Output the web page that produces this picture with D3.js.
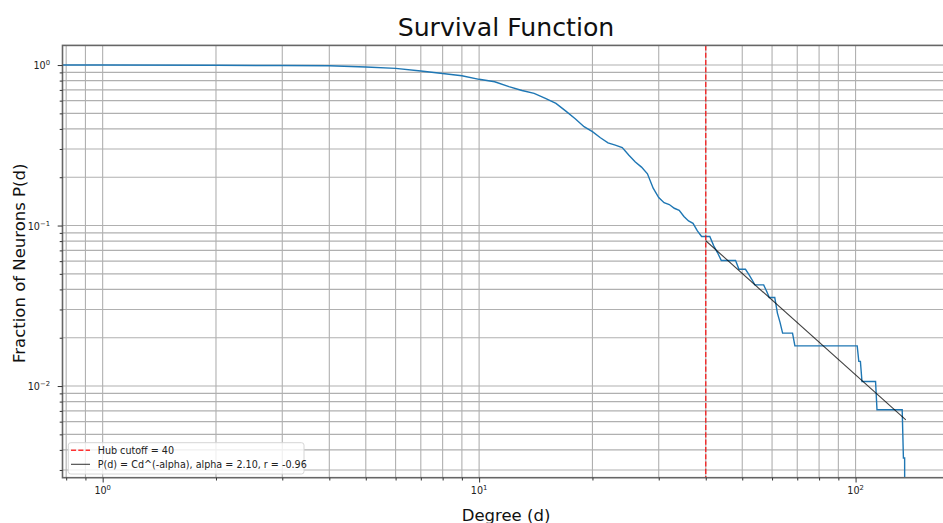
<!DOCTYPE html>
<html>
<head>
<meta charset="utf-8">
<script src="https://cdn.jsdelivr.net/npm/d3@7/dist/d3.min.js"></script>
<style>
  body { margin: 0; background: #fff; }
  svg { display: block; font-family: "DejaVu Sans", sans-serif; }
</style>
</head>
<body>
<svg id="chart"></svg>
<script>
// degree values where the survival curve has a reading (integer degrees)
const degrees = [
  0, 1, 2, 3, 4, 5, 6, 7, 8, 9, 10,
  11, 12, 13, 14, 15, 16, 17, 18, 19, 20,
  21, 22, 23, 24, 25, 26, 27, 28, 29, 30,
  31, 32, 33, 34, 35, 36, 37, 38, 39, 40,
  41, 42, 43, 44, 48, 49, 51, 52, 53, 54,
  57, 58, 59, 61, 62, 63, 64, 68, 69, 101,
  102, 103, 104, 113, 114, 133, 134, 135, 136
];
// number of neurons still counted at each degree above
const neuronCounts = [
  281, 281, 280, 279, 278, 273, 268, 258, 249, 241, 229,
  221, 206, 195, 187, 174, 162, 145, 130, 116, 108,
  99, 92, 89, 86, 77, 70, 65, 59, 48, 42,
  39, 38, 36, 35, 32, 30, 29, 26, 24, 24,
  24, 21, 19, 17, 17, 15, 15, 14, 13, 12,
  12, 11, 10, 10, 8, 7, 6, 6, 5, 5,
  4, 4, 3, 3, 2, 2, 1, 1, 0
];
const totalNeurons = 281;

const hubCutoff = 40;
const fitAlpha = 2.10;
const fitC = 186;
const fitR = -0.96;

const legendLabels = [
  `Hub cutoff = ${hubCutoff}`,
  `P(d) = Cd^(-alpha), alpha = ${fitAlpha.toFixed(2)}, r = ${fitR.toFixed(2)}`
];

class SurvivalPlot {

  constructor(_config) {
    this.config = {
      parentElement: _config.parentElement,
      containerWidth: 943,
      containerHeight: 523,
      plot: {left: 62.5, right: 946, top: 45.4, bottom: 477.7}
    };
    this.initVis();
  }

  initVis() {
    let vis = this;
    const p = vis.config.plot;

    vis.svg = d3.select(vis.config.parentElement)
        .attr('width', vis.config.containerWidth)
        .attr('height', vis.config.containerHeight);

    vis.points = degrees.map((d, i) => ({d: d, p: neuronCounts[i] / totalNeurons}));

    // log axes padded by 5% of the positive data span, like matplotlib autoscale
    const lx = d3.extent(vis.points.filter(d => d.d > 0), d => Math.log10(d.d));
    const ly = d3.extent(vis.points.filter(d => d.p > 0), d => Math.log10(d.p));
    const px = (lx[1] - lx[0]) * 0.05, py = (ly[1] - ly[0]) * 0.05;

    vis.x = d3.scaleLog()
        .domain([Math.pow(10, lx[0] - px), Math.pow(10, lx[1] + px)])
        .range([p.left, p.right]);
    vis.y = d3.scaleLog()
        .domain([Math.pow(10, ly[0] - py), Math.pow(10, ly[1] + py)])
        .range([p.bottom, p.top]);

    vis.svg.append('defs').append('clipPath').attr('id', 'plot-clip')
      .append('rect')
        .attr('x', p.left).attr('y', p.top)
        .attr('width', p.right - p.left).attr('height', p.bottom - p.top);

    this.renderVis();
  }

  renderVis() {
    let vis = this;
    const p = vis.config.plot;
    const isMajor = v => Math.abs(Math.log10(v) - Math.round(Math.log10(v))) < 1e-9;

    const xd = vis.x.domain(), yd = vis.y.domain();
    const xTicks = vis.x.ticks().filter(v => v >= xd[0] && v <= xd[1]);
    const yTicks = vis.y.ticks().filter(v => v >= yd[0] && v <= yd[1]);

    // grid, major and minor
    const grid = vis.svg.append('g')
        .attr('stroke', '#b0b0b0')
        .attr('stroke-width', 1.1);
    grid.selectAll('.vgrid')
      .data(xTicks)
      .join('line')
        .attr('class', 'vgrid')
        .attr('x1', d => vis.x(d)).attr('x2', d => vis.x(d))
        .attr('y1', p.top).attr('y2', p.bottom);
    grid.selectAll('.hgrid')
      .data(yTicks)
      .join('line')
        .attr('class', 'hgrid')
        .attr('x1', p.left).attr('x2', p.right)
        .attr('y1', d => vis.y(d)).attr('y2', d => vis.y(d));

    const plotArea = vis.svg.append('g').attr('clip-path', 'url(#plot-clip)');

    // survival curve; zeros (degree 0, last value) are pushed off the axes and clipped
    const line = d3.line()
        .x(d => vis.x(Math.max(d.d, 1e-6)))
        .y(d => vis.y(Math.max(d.p, 1e-9)));
    plotArea.append('path')
        .datum(vis.points)
        .attr('fill', 'none')
        .attr('stroke', '#1f77b4')
        .attr('stroke-width', 1.4)
        .attr('d', line);

    // hub cutoff
    plotArea.append('line')
        .attr('x1', vis.x(hubCutoff)).attr('x2', vis.x(hubCutoff))
        .attr('y1', p.top).attr('y2', p.bottom)
        .attr('stroke', 'red')
        .attr('stroke-opacity', 0.8)
        .attr('stroke-width', 1.4)
        .attr('stroke-dasharray', '5.1,2.2');

    // power-law fit over the hub range
    const fitDegrees = [hubCutoff, d3.max(degrees)];
    const fitLine = d3.line()
        .x(d => vis.x(d))
        .y(d => vis.y(fitC * Math.pow(d, -fitAlpha)));
    plotArea.append('path')
        .datum(fitDegrees)
        .attr('fill', 'none')
        .attr('stroke', 'black')
        .attr('stroke-opacity', 0.75)
        .attr('stroke-width', 1.1)
        .attr('d', fitLine);

    // spines
    vis.svg.append('rect')
        .attr('x', p.left).attr('y', p.top)
        .attr('width', p.right - p.left).attr('height', p.bottom - p.top)
        .attr('fill', 'none')
        .attr('stroke', '#666')
        .attr('stroke-width', 1.6);

    // ticks
    const axisStyle = g => {
      g.select('.domain').remove();
      g.selectAll('.tick line').attr('stroke', '#333').attr('stroke-width', 1);
    };
    const xMajor = xTicks.filter(isMajor), xMinor = xTicks.filter(v => !isMajor(v));
    const yMajor = yTicks.filter(isMajor), yMinor = yTicks.filter(v => !isMajor(v));

    vis.svg.append('g').attr('transform', `translate(0,${p.bottom})`)
        .call(d3.axisBottom(vis.x).tickValues(xMinor).tickSize(2.8).tickFormat(''))
        .call(axisStyle);
    vis.svg.append('g').attr('transform', `translate(0,${p.bottom})`)
        .call(d3.axisBottom(vis.x).tickValues(xMajor).tickSize(4.8).tickFormat(''))
        .call(axisStyle);
    vis.svg.append('g').attr('transform', `translate(${p.left},0)`)
        .call(d3.axisLeft(vis.y).tickValues(yMinor).tickSize(2.8).tickFormat(''))
        .call(axisStyle);
    vis.svg.append('g').attr('transform', `translate(${p.left},0)`)
        .call(d3.axisLeft(vis.y).tickValues(yMajor).tickSize(4.8).tickFormat(''))
        .call(axisStyle);

    // 10^n labels
    const power = v => {
      const e = Math.round(Math.log10(v));
      return e < 0 ? '\u2212' + (-e) : String(e);
    };
    const addPowerLabel = (sel) => {
      sel.append('tspan').text('10');
      sel.append('tspan')
          .attr('font-size', 6.8)
          .attr('dy', -4)
          .text(d => power(d));
    };
    vis.svg.append('g')
        .attr('font-size', 9.6)
        .attr('fill', '#222')
      .selectAll('text')
      .data(xMajor)
      .join('text')
        .attr('x', d => vis.x(d))
        .attr('y', 493.5)
        .attr('text-anchor', 'middle')
        .call(addPowerLabel);
    vis.svg.append('g')
        .attr('font-size', 9.6)
        .attr('fill', '#222')
      .selectAll('text')
      .data(yMajor)
      .join('text')
        .attr('x', 50)
        .attr('y', d => vis.y(d) + 4)
        .attr('text-anchor', 'end')
        .call(addPowerLabel);

    // titles
    vis.svg.append('text')
        .attr('x', 506).attr('y', 36)
        .attr('text-anchor', 'middle')
        .attr('font-size', 25.2)
        .attr('fill', '#111')
        .text('Survival Function');
    vis.svg.append('text')
        .attr('x', 506).attr('y', 520.5)
        .attr('text-anchor', 'middle')
        .attr('font-size', 16.5)
        .attr('fill', '#111')
        .text('Degree (d)');
    vis.svg.append('text')
        .attr('transform', 'translate(25,263.3) rotate(-90)')
        .attr('text-anchor', 'middle')
        .attr('font-size', 16.5)
        .attr('fill', '#111')
        .text('Fraction of Neurons P(d)');

    // legend
    const legend = vis.svg.append('g').attr('transform', 'translate(68.3,442.7)');
    legend.append('rect')
        .attr('width', 235.7).attr('height', 31.3)
        .attr('rx', 2.5)
        .attr('fill', 'white').attr('fill-opacity', 0.8)
        .attr('stroke', '#d6d6d6').attr('stroke-width', 1);
    const items = legend.selectAll('.item')
      .data(legendLabels)
      .join('g')
        .attr('class', 'item')
        .attr('transform', (d, i) => `translate(0,${7.6 + i * 14})`);
    items.append('line')
        .attr('x1', 2.7).attr('x2', 21.7)
        .attr('stroke', (d, i) => i === 0 ? 'red' : 'black')
        .attr('stroke-opacity', (d, i) => i === 0 ? 0.8 : 0.75)
        .attr('stroke-width', (d, i) => i === 0 ? 1.4 : 1.1)
        .attr('stroke-dasharray', (d, i) => i === 0 ? '5.1,2.2' : null);
    items.append('text')
        .attr('x', 29.4).attr('y', 3.4)
        .attr('font-size', 9.6)
        .attr('fill', '#222')
        .text(d => d);
  }
}

new SurvivalPlot({parentElement: '#chart'});
</script>
</body>
</html>
